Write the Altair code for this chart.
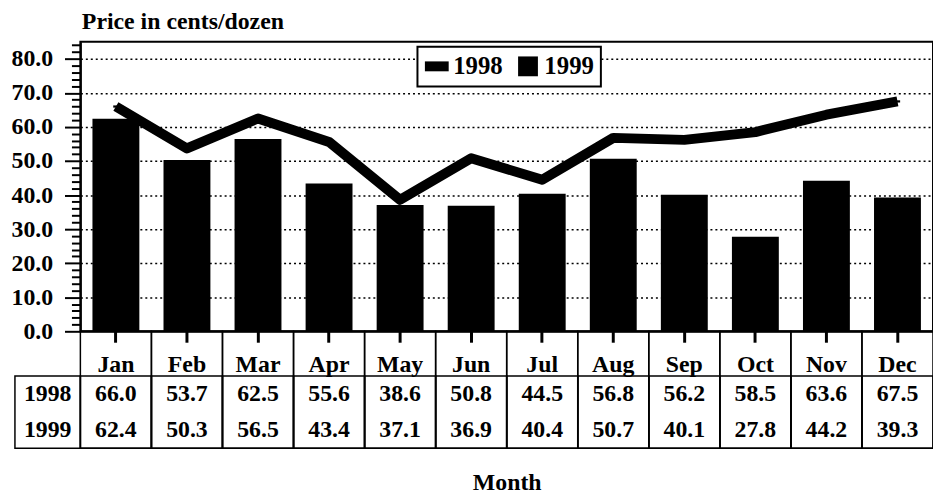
import altair as alt
import pandas as pd

months = ["Jan", "Feb", "Mar", "Apr", "May", "Jun", "Jul", "Aug", "Sep", "Oct", "Nov", "Dec"]
price_1998 = [66.0, 53.7, 62.5, 55.6, 38.6, 50.8, 44.5, 56.8, 56.2, 58.5, 63.6, 67.5]
price_1999 = [62.4, 50.3, 56.5, 43.4, 37.1, 36.9, 40.4, 50.7, 40.1, 27.8, 44.2, 39.3]
series = ["1998", "1999"]
y_ticks = list(range(0, 85, 2))
# table row index: header row 0-1, 1998 row 1-2, 1999 row 2-3
table_row = {"1998": 1.5, "1999": 2.5}

FONT = "'Liberation Serif', 'Times New Roman', serif"
FS = 24

df = pd.DataFrame({"month": months, "p1998": price_1998, "p1999": price_1999})
long = pd.DataFrame({
    "month": months * 2,
    "series": ["1998"] * len(months) + ["1999"] * len(months),
    "value": price_1998 + price_1999,
})
long["row"] = long["series"].map(table_row)
long["label"] = long["value"].map(lambda v: f"{v:.1f}")
cols = pd.DataFrame({"month": months, "top": 0, "mid": 1, "bottom": 3})
box = pd.DataFrame({"mid": [1], "bottom": [3]})
rowlab = pd.DataFrame({"series": series, "row": [table_row[s] for s in series]})

x_enc = alt.X(
    "month:N", sort=months,
    scale=alt.Scale(domain=months, paddingInner=0, paddingOuter=0),
    axis=alt.Axis(
        title="Month", titleFont=FONT, titleFontSize=FS, titleFontWeight="bold",
        titleColor="black", titleY=160, titleBaseline="alphabetic",
        labelAngle=0, labelFont=FONT, labelFontSize=FS, labelFontWeight="bold",
        labelColor="black", labelPadding=11, tickSize=11, tickWidth=3,
        tickColor="black", domainColor="black", domainWidth=2, grid=False,
    ),
)


def y_main(field):
    return alt.Y(
        f"{field}:Q",
        scale=alt.Scale(domain=[0, 85], nice=False, zero=True),
        axis=alt.Axis(
            values=y_ticks, title="Price in cents/dozen", titleAngle=0,
            titleAlign="left", titleBaseline="alphabetic", titleX=1, titleY=-13,
            titleFont=FONT, titleFontSize=FS, titleFontWeight="bold", titleColor="black",
            labelExpr="datum.value % 10 === 0 ? format(datum.value, '.1f') : ''",
            labelFont=FONT, labelFontSize=FS, labelFontWeight="bold", labelColor="black",
            labelPadding=12,
            tickSize={"condition": {"test": "datum.value % 10 === 0", "value": 16}, "value": 9},
            tickWidth=2, tickColor="black", domainColor="black", domainWidth=2,
            grid=True, gridColor="black", gridDash=[2, 3], gridWidth=1.5,
            gridOpacity={"condition": {"test": "datum.value % 10 === 0 && datum.value > 0", "value": 1}, "value": 0},
        ),
    )


bars = alt.Chart(df).mark_bar(color="black", width=alt.RelativeBandSize(0.66)).encode(
    x=x_enc, y=y_main("p1999")
)
line = alt.Chart(df).mark_line(color="black", strokeWidth=10, strokeJoin="round").encode(
    x=x_enc, y=y_main("p1998")
)
pts = alt.Chart(long[long["series"] == "1998"]).mark_point(filled=True, color="black", size=20, opacity=1).encode(
    x=x_enc, y=y_main("value"),
    shape=alt.Shape(
        "series:N",
        scale=alt.Scale(domain=series, range=["M-1.2,-0.5L1.2,-0.5L1.2,0.5L-1.2,0.5Z", "square"]),
        legend=alt.Legend(
            title=None, orient="none", legendX=340, legendY=5, direction="horizontal",
            labelFont=FONT, labelFontSize=25, labelFontWeight="bold", labelColor="black",
            symbolSize=400, symbolFillColor="black", symbolStrokeColor="black",
            fillColor="white", strokeColor="black", padding=7, columnPadding=12, labelOffset=4,
        ),
    ),
)
main = alt.layer(bars, line, pts)

ty = alt.Scale(domain=[0, 1, 3], range=[292, 337, 410])
cell_all = alt.Chart(cols).mark_rect(fill="white", fillOpacity=0, stroke="black", strokeWidth=1.5).encode(
    x=x_enc, y=alt.Y("top:Q", scale=ty, axis=None), y2="bottom:Q"
)
cell_rows = alt.Chart(cols).mark_rect(fill="white", fillOpacity=0, stroke="black", strokeWidth=1.5).encode(
    x=x_enc, y=alt.Y("mid:Q", scale=ty, axis=None), y2="bottom:Q"
)
left_box = alt.Chart(box).mark_rect(fill="white", fillOpacity=0, stroke="black", strokeWidth=1.5).encode(
    x=alt.value(-66), x2=alt.value(0), y=alt.Y("mid:Q", scale=ty, axis=None), y2="bottom:Q"
)
nums = alt.Chart(long).mark_text(font=FONT, fontSize=FS, fontWeight="bold", color="black", baseline="middle").encode(
    x=x_enc, y=alt.Y("row:Q", scale=ty, axis=None), text="label:N"
)
left_text = alt.Chart(rowlab).mark_text(font=FONT, fontSize=FS, fontWeight="bold", color="black", baseline="middle").encode(
    x=alt.value(-33), y=alt.Y("row:Q", scale=ty, axis=None), text="series:N"
)
table = alt.layer(cell_all, cell_rows, left_box, nums, left_text)

chart = alt.layer(main, table).resolve_scale(y="independent").properties(
    width=860, height=292,
    autosize=alt.AutoSizeParams(type="none"),
    padding={"left": 73, "top": 32, "right": 0, "bottom": 163},
    background="white",
).configure_view(stroke="black", strokeWidth=2).configure_legend(strokeWidth=2)

chart.save("out.html", embed_options={"renderer": "svg", "actions": False})
